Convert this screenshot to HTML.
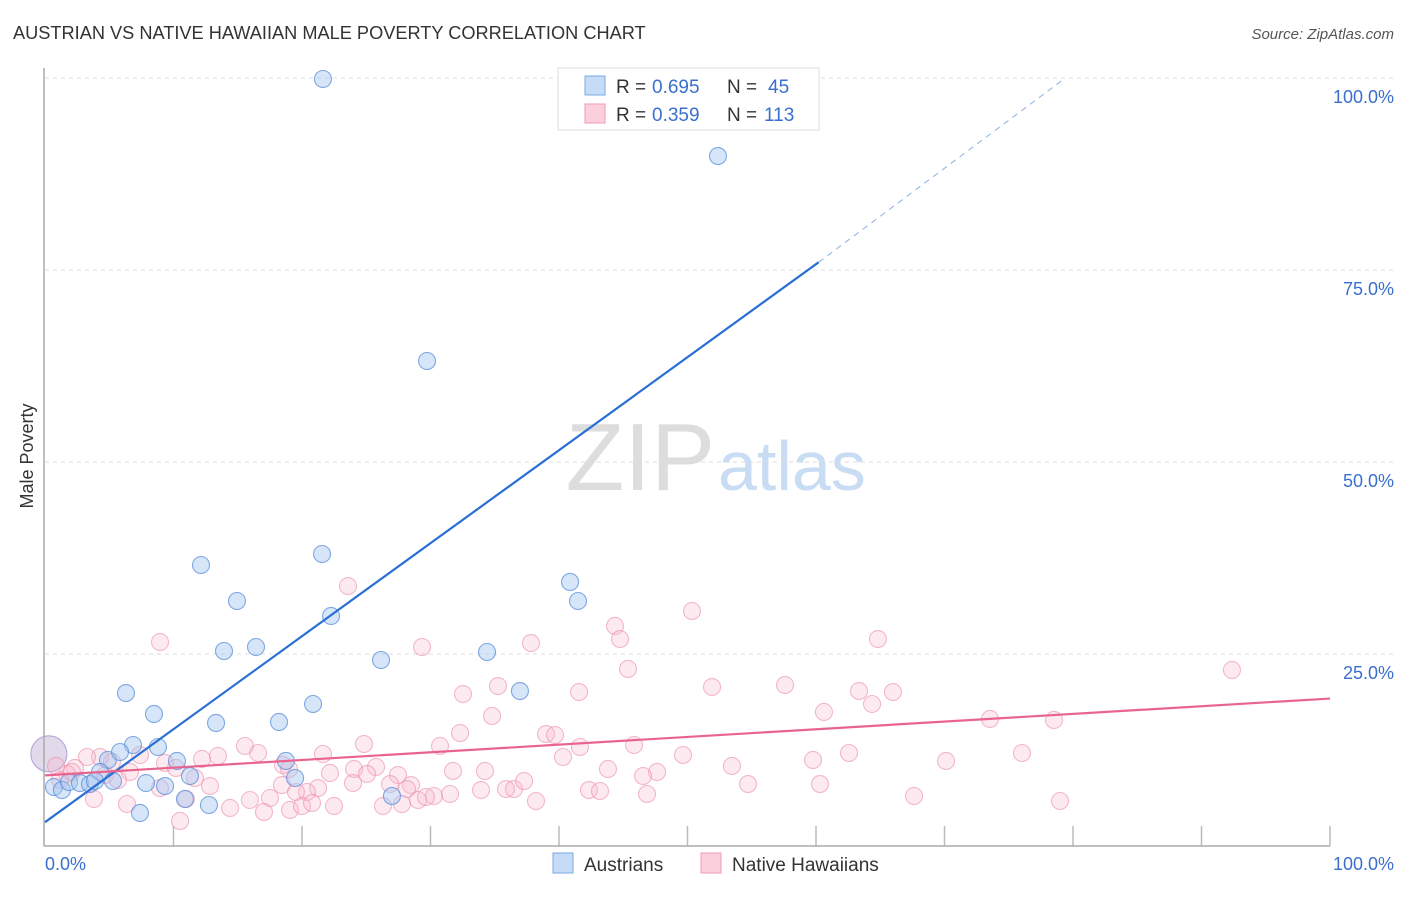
<!DOCTYPE html>
<html><head><meta charset="utf-8"><style>
body{margin:0;background:#fff;font-family:"Liberation Sans",sans-serif}
svg text{font-family:"Liberation Sans",sans-serif}
</style></head><body>
<svg id="chart" width="1406" height="892" xmlns="http://www.w3.org/2000/svg">
<text x="13" y="39" font-size="18.2" fill="#333">AUSTRIAN VS NATIVE HAWAIIAN MALE POVERTY CORRELATION CHART</text>
<text x="1394" y="39" font-size="15" fill="#555" text-anchor="end" font-style="italic">Source: ZipAtlas.com</text>
<text x="33" y="456" font-size="18" fill="#333" text-anchor="middle" transform="rotate(-90 33 456)">Male Poverty</text>
<text x="715" y="490" font-size="96" fill="#ddd" text-anchor="end" font-family="Liberation Serif">ZIP</text>
<text x="718" y="490" font-size="70" fill="#c8dcf3">atlas</text>
<g id="grid"></g><g id="pts"></g><g id="lines"></g>
<line x1="44" y1="68" x2="44" y2="846" stroke="#aaa" stroke-width="1.5"/>
<line x1="44" y1="846" x2="1330" y2="846" stroke="#aaa" stroke-width="1.5"/>
<text x="45" y="870" font-size="18" fill="#3a6fd0">0.0%</text>
<text x="1394" y="870" font-size="18" fill="#3a6fd0" text-anchor="end">100.0%</text>
<g>
<rect x="558" y="68" width="261" height="62" fill="#fff" stroke="#ddd"/>
<rect x="585" y="76" width="20" height="19" fill="#c5dbf6" stroke="#7aa8e6"/>
<rect x="585" y="104" width="20" height="19" fill="#fbd0dc" stroke="#f09ab4"/>
<text x="616" y="93" font-size="19" fill="#333">R =</text>
<text x="652" y="93" font-size="19" fill="#3a6fd0">0.695</text>
<text x="727" y="93" font-size="19" fill="#333">N =</text>
<text x="768" y="93" font-size="19" fill="#3a6fd0">45</text>
<text x="616" y="121" font-size="19" fill="#333">R =</text>
<text x="652" y="121" font-size="19" fill="#3a6fd0">0.359</text>
<text x="727" y="121" font-size="19" fill="#333">N =</text>
<text x="764" y="121" font-size="19" fill="#3a6fd0">113</text>
</g>
<g>
<rect x="553" y="853" width="20" height="20" fill="#c5dbf6" stroke="#7aa8e6"/>
<text x="584" y="871" font-size="19" fill="#333">Austrians</text>
<rect x="701" y="853" width="20" height="20" fill="#fbd0dc" stroke="#f09ab4"/>
<text x="732" y="871" font-size="19" fill="#333">Native Hawaiians</text>
</g>
</svg>
<script>
const yTicks=[25,50,75,100];
const yTickLabels=["25.0%","50.0%","75.0%","100.0%"];
const xTicks=[10,20,30,40,50,60,70,80,90,100];
const bluePx=[[323,79],[718,156],[427,361],[201,565],[322,554],[237,601],[331,616],[224,651],[256,647],[381,660],[487,652],[570,582],[578,601],[126,693],[520,691],[154,714],[216,723],[279,722],[313,704],[133,745],[158,747],[177,761],[286,761],[108,760],[120,752],[100,772],[295,778],[190,776],[54,787],[62,790],[69,782],[80,783],[90,784],[95,781],[113,781],[146,783],[165,786],[185,799],[209,805],[140,813],[392,796]];
const pinkPx=[[348,586],[160,642],[692,611],[615,626],[620,639],[531,643],[422,647],[878,639],[1232,670],[628,669],[463,694],[498,686],[579,692],[712,687],[785,685],[859,691],[893,692],[872,704],[824,712],[492,716],[460,733],[546,734],[555,735],[990,719],[1054,720],[440,746],[364,744],[245,746],[323,754],[258,753],[202,759],[218,756],[634,745],[580,747],[683,755],[849,753],[1022,753],[813,760],[563,757],[946,761],[732,766],[608,769],[657,772],[643,776],[485,771],[453,771],[376,767],[354,769],[367,774],[283,765],[289,769],[330,773],[398,775],[390,784],[411,785],[318,788],[307,792],[296,792],[282,785],[353,783],[407,789],[434,796],[450,794],[481,790],[506,789],[514,789],[524,781],[418,800],[426,797],[536,801],[589,790],[600,791],[647,794],[748,784],[820,784],[914,796],[1060,801],[383,806],[402,804],[250,800],[270,798],[290,810],[302,806],[312,803],[334,806],[230,808],[186,799],[127,804],[94,799],[180,821],[264,812],[160,788],[210,786],[195,778],[165,763],[176,768],[112,762],[130,772],[140,755],[100,757],[87,757],[75,768],[67,774],[60,780],[56,766],[105,775],[118,780],[72,772]];
const blueX=bluePx.map(p=>+((p[0]-45)/12.85).toFixed(2)), blueY=bluePx.map(p=>+((846-p[1])/7.68).toFixed(2));
const pinkX=pinkPx.map(p=>+((p[0]-45)/12.85).toFixed(2)), pinkY=pinkPx.map(p=>+((846-p[1])/7.68).toFixed(2));
const blueTrend=[3.1,76.0,100];
const blueTrendX=[0,60.2,79.4];
const pinkTrendX=[0,100], pinkTrendY=[9.2,19.2];
const X=v=>45+v*12.85, Y=v=>846-v*7.68;
const NS="http://www.w3.org/2000/svg";
function mk(t,a,p){const e=document.createElementNS(NS,t);for(const k in a)e.setAttribute(k,a[k]);p.appendChild(e);return e;}
const grid=document.getElementById('grid');
yTicks.forEach((v,i)=>{
 const l=mk('line',{x1:45,x2:1395,y1:Y(v),y2:Y(v),stroke:'#ddd','stroke-dasharray':'4,4'},grid);
 
 
 const t=mk('text',{x:1394,y:Y(v)+25,'font-size':18,fill:'#3a6fd0','text-anchor':'end'},grid);
 t.textContent=yTickLabels[i];
 
 
});
xTicks.forEach(v=>{
 const l=mk('line',{x1:X(v),x2:X(v),y1:826,y2:846,stroke:'#bbb','stroke-width':1.5},grid);
 
 
});
const pts=document.getElementById('pts');
function dot(x,y,r,f,s,n){const c=mk('circle',{cx:X(x),cy:Y(y),r:r,fill:f,stroke:s,'stroke-width':1.1},pts);
 
 }
dot(0.3,12,18,'rgba(190,170,210,0.45)','#b0a8d8','big-point');
pinkX.forEach((x,i)=>dot(x,pinkY[i],8.5,'rgba(248,185,205,0.3)','rgba(235,140,170,0.6)','native-hawaiian-point'));
blueX.forEach((x,i)=>dot(x,blueY[i],8.5,'rgba(165,198,240,0.45)','rgba(80,135,215,0.7)','austrian-point'));
const lines=document.getElementById('lines');
let e=mk('line',{x1:X(blueTrendX[0]),y1:Y(blueTrend[0]),x2:X(blueTrendX[1]),y2:Y(blueTrend[1]),stroke:'#2a6fd6','stroke-width':2.2},lines);


e=mk('line',{x1:X(blueTrendX[1]),y1:Y(blueTrend[1]),x2:X(blueTrendX[2]),y2:Y(blueTrend[2]),stroke:'#8ab0e6','stroke-width':1,'stroke-dasharray':'6,5'},lines);


e=mk('line',{x1:X(pinkTrendX[0]),y1:Y(pinkTrendY[0]),x2:X(pinkTrendX[1]),y2:Y(pinkTrendY[1]),stroke:'#e8648f','stroke-width':2.2},lines);


</script>
</body></html>
